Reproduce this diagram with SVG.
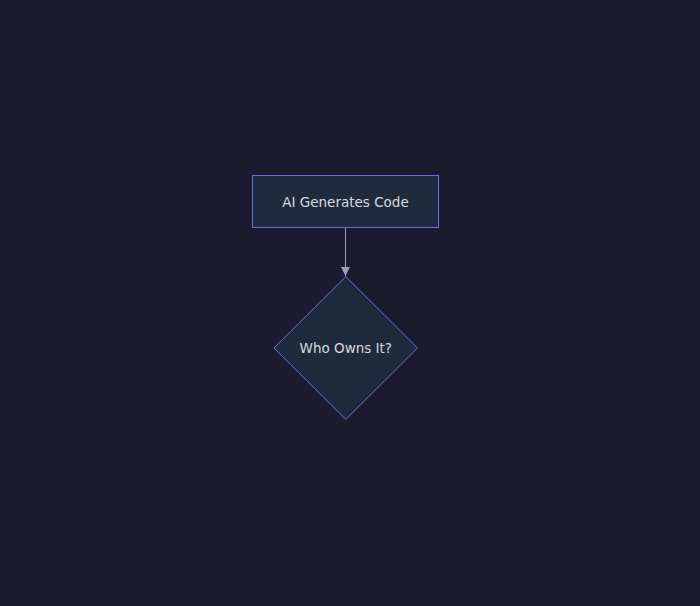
<svg xmlns="http://www.w3.org/2000/svg" width="700" height="606" viewBox="0 0 700 606">
<defs>
<style>
.node rect, .node polygon { fill: #1f2a3c; stroke: #6b70e0; stroke-width: 1; }
.label { font-family: "DejaVu Sans", "Liberation Sans", sans-serif; font-size: 13.5px; fill: #d8dae0; text-anchor: middle; dominant-baseline: central; }
.edge { stroke: #9aa3b5; stroke-width: 1; fill: none; }
</style>
<marker id="arrow" viewBox="0 0 10 10" refX="10" refY="5" markerWidth="9" markerHeight="9" markerUnits="userSpaceOnUse" orient="auto">
<path d="M0,0 L10,5 L0,10 Z" fill="#9aa3b5"/>
</marker>
</defs>
<rect width="700" height="606" fill="#1a1b2e"/>
<g id="connectors">
<path class="edge" d="M345.5,228 L345.5,276" marker-end="url(#arrow)"/>
</g>
<g id="A" class="node">
<rect x="252.5" y="175.5" width="186" height="52"/>
<text class="label" x="345.5" y="201.5">AI Generates Code</text>
</g>
<g id="B" class="node">
<polygon points="345.8,276.5 417.5,348 345.8,419.5 274,348"/>
<text class="label" x="345.8" y="348">Who Owns It?</text>
</g>
</svg>
